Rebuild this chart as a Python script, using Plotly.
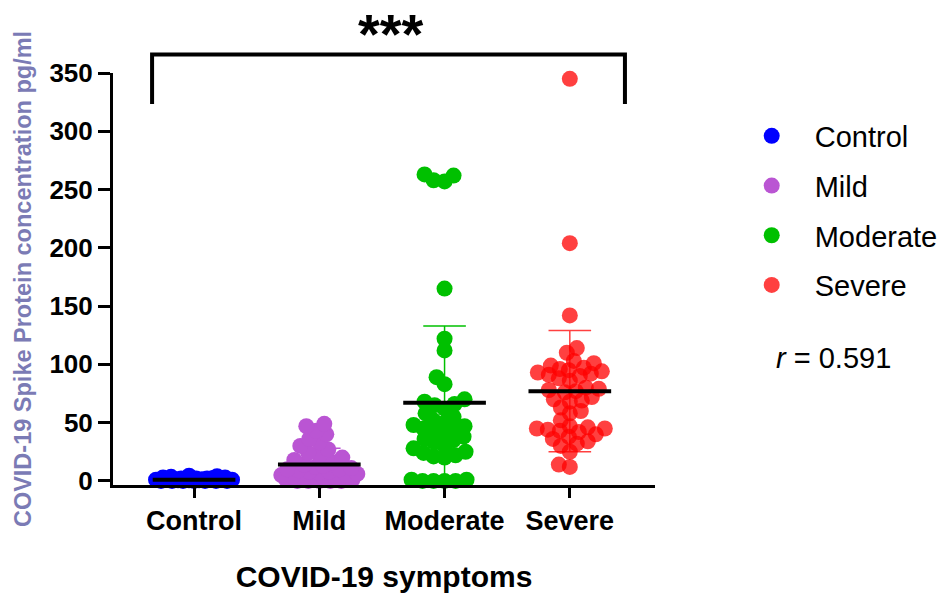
import numpy as np
import plotly.graph_objects as go

categories = ["Control", "Mild", "Moderate", "Severe"]
colors = ["#0000FF", "#BA55D3", "#00C000", "rgba(255,0,0,0.75)"]
legend_colors = ["#0000FF", "#BA55D3", "#00C000", "#FF4040"]

control_vals = [0, 0, 0, 0, 0, 0.5, 0.5, 1, 1, 1, 1, 1.5, 1.5, 2, 2, 2, 2.5, 3, 3, 3.5,
                4, 4.5, 1, 0.5, 0, 0, 1, 2]
mild_vals = [0, 0, 0, 0, 0, 1, 1, 2, 2, 3, 3, 4, 5, 5, 6, 7, 8, 8, 9, 10, 10, 11, 12,
             13, 14, 16, 18, 20, 22, 24, 27, 30, 33, 36, 40, 43, 47, 49]
moderate_vals = [257, 262, 263, 258, 165, 122, 112, 89, 83,
                 70, 68, 66, 65, 62, 58, 55, 52, 50, 48, 47, 45, 44, 42, 40, 38, 36, 35,
                 33, 30, 28, 25, 24, 22, 21, 20, 0, 0, 0, 0, 1, 1]
severe_vals = [345, 204, 142, 114, 110, 103, 101, 99, 97, 96, 95, 94, 93, 92, 91, 90, 88,
               86, 80, 79, 78, 77, 76, 72, 70, 69, 68, 63, 60, 58, 52, 47, 46, 45, 45, 44,
               43, 42, 40, 38, 36, 34, 32, 30, 25, 14, 12]
group_vals = [control_vals, mild_vals, moderate_vals, severe_vals]

means = [1, 14, 67, 77]
sds = [1.5, 14, 66, 52]

y_ticks = [0, 50, 100, 150, 200, 250, 300, 350]

# layout geometry (pixels per unit) used for the beeswarm spread
W, H = 944, 594
ML, MR, MT, MB = 113, 289, 73, 109
XR = [-0.647, 3.68]
YR = [-3.5, 350]
ppx = (W - ML - MR) / (XR[1] - XR[0])
ppy = (H - MT - MB) / (YR[1] - YR[0])


def swarm(vals, dmin=10.5, maxw=38):
    vals = np.asarray(vals, float)
    order = np.argsort(vals, kind="stable")
    placed = []
    offs = np.zeros(len(vals))
    cands = sorted(np.arange(-maxw, maxw + 0.01, 1.0), key=lambda c: (abs(c), c))
    for i in order:
        y = vals[i] * ppy
        best = None
        bestscore = -1
        fallback = 0.0
        for c in cands:
            if placed:
                md = min(np.hypot(c - px, y - py) for px, py in placed)
            else:
                md = 1e9
            if md >= dmin:
                best = c
                break
            if md > bestscore + 0.5:
                bestscore = md
                fallback = c
        if best is None:
            best = fallback
        placed.append((best, y))
        offs[i] = best / ppx
    return offs


fig = go.Figure()

# SD error bars
for i, (m, s) in enumerate(zip(means, sds)):
    lo = max(m - s, 0)
    hi = m + s
    fig.add_trace(go.Scatter(
        x=[i - 0.17, i + 0.17, None, i, i, None, i - 0.17, i + 0.17],
        y=[hi, hi, None, hi, lo, None, lo, lo],
        mode="lines", line=dict(color=legend_colors[i], width=1.5),
        showlegend=False, hoverinfo="skip", cliponaxis=False))

# points
for i, vals in enumerate(group_vals):
    offs = swarm(vals)
    fig.add_trace(go.Scatter(
        x=i + offs, y=vals, mode="markers", name=categories[i],
        marker=dict(size=16, color=colors[i], line=dict(width=0)),
        legendgroup=categories[i], cliponaxis=False))

# mean lines
for i, m in enumerate(means):
    fig.add_trace(go.Scatter(
        x=[i - 0.33, i + 0.33], y=[m, m], mode="lines",
        line=dict(color="black", width=4), showlegend=False,
        hoverinfo="skip", cliponaxis=False))

font_family = "Liberation Sans, Arial, sans-serif"
PH = H - MT - MB
PW = W - ML - MR

# significance bracket
fig.add_shape(type="path", xref="x", yref="paper",
              path="M -0.335,0.925 L -0.335,1.045 L 3.44,1.045 L 3.44,0.925",
              line=dict(color="black", width=4))
fig.add_annotation(text="***", xref="x", yref="paper", x=1.572, y=(H - MB - 0.5) / PH,
                   yanchor="top", showarrow=False,
                   font=dict(size=56, family=font_family, color="black", weight="bold"))
fig.add_annotation(text="<i>r</i> = 0.591", xref="paper", yref="paper",
                   x=(774 - ML) / PW, y=(H - MB - 358) / PH,
                   xanchor="left", yanchor="middle", showarrow=False,
                   font=dict(size=29, family=font_family, color="black"))

fig.update_layout(
    width=W, height=H,
    margin=dict(l=ML, r=MR, t=MT, b=MB, autoexpand=False),
    paper_bgcolor="white", plot_bgcolor="white",
    font=dict(family=font_family, color="black"),
    showlegend=True,
    legend=dict(x=1.136, xanchor="left", y=0.909, yanchor="top",
                font=dict(size=29, family=font_family, color="black"),
                itemwidth=76, tracegroupgap=9, bgcolor="rgba(0,0,0,0)"),
    xaxis=dict(range=XR, tickvals=[0, 1, 2, 3], ticktext=categories,
               showline=True, linecolor="black", linewidth=3,
               ticks="outside", ticklen=10, tickwidth=3, tickcolor="black",
               showgrid=False, zeroline=False, automargin=False,
               tickfont=dict(size=27, family=font_family, color="black", weight="bold"),
               title=dict(text="COVID-19 symptoms", standoff=31,
                          font=dict(size=30, family=font_family, color="black",
                                    weight="bold"))),
    yaxis=dict(range=YR, tickvals=y_ticks,
               showline=True, linecolor="black", linewidth=3,
               ticks="outside", ticklen=12, tickwidth=3, tickcolor="black",
               showgrid=False, zeroline=False, automargin=False,
               tickfont=dict(size=26, family=font_family, color="black", weight="bold"),
               title=dict(text="COVID-19 Spike Protein concentration pg/ml", standoff=12,
                          font=dict(size=23.5, family=font_family, color="#7B7BB5",
                                    weight="bold"))),
)

fig.write_html("out.html")
